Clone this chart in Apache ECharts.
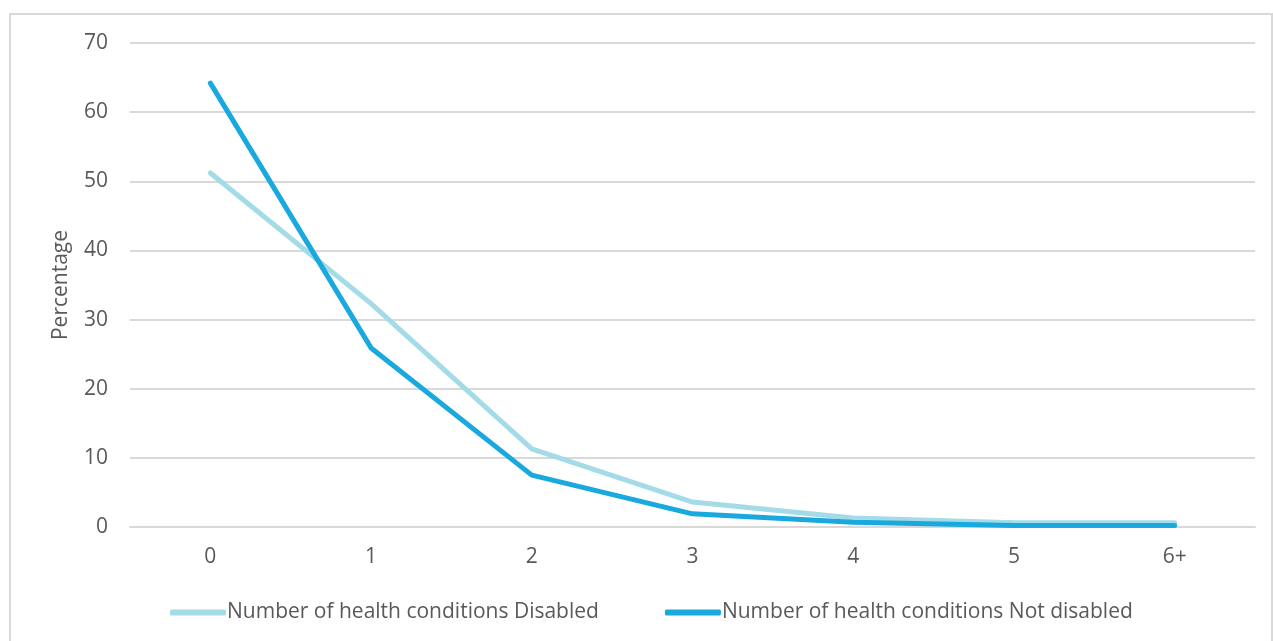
<!DOCTYPE html>
<html>
<head>
<meta charset="utf-8">
<script src="https://cdn.jsdelivr.net/npm/echarts@6/dist/echarts.min.js"></script>
<style>
  html, body { margin: 0; padding: 0; background: #fff; }
  #chart { width: 1273px; height: 641px; }
</style>
</head>
<body>
<div id="chart"></div>
<script>
// Number of health conditions, by disability status (percentage)
const categories = ['0', '1', '2', '3', '4', '5', '6+'];
const disabled = [51.2, 32.3, 11.3, 3.6, 1.3, 0.6, 0.6];
const notDisabled = [64.2, 25.9, 7.5, 1.9, 0.7, 0.2, 0.2];
const yTicks = { min: 0, max: 70, interval: 10 };

const textColor = '#595959';
const gridColor = '#d9d9d9';
const fontFamily = '"Open Sans", "Noto Sans", sans-serif';
const fontSize = 21;

const chart = echarts.init(document.getElementById('chart'), null, { renderer: 'canvas' });

chart.setOption({
  animation: false,
  backgroundColor: '#ffffff',
  textStyle: { fontFamily: fontFamily },
  graphic: [{
    type: 'rect',
    shape: { x: 10, y: 14, width: 1262, height: 640 },
    style: { fill: 'none', stroke: gridColor, lineWidth: 2 },
    silent: true
  }],
  grid: { left: 130, right: 18, top: 43, bottom: 114 },
  legend: {
    bottom: 13,
    left: 165,
    itemGap: 66,
    itemWidth: 56,
    itemHeight: 6,
    icon: 'roundRect',
    textStyle: { color: textColor, fontSize: fontSize, fontFamily: fontFamily, padding: [0, 0, 0, -4] },
    data: ['Number of health conditions Disabled', 'Number of health conditions Not disabled']
  },
  xAxis: {
    type: 'category',
    data: categories,
    boundaryGap: true,
    axisLine: { show: true, lineStyle: { color: gridColor, width: 2 } },
    axisTick: { show: false },
    axisLabel: { color: textColor, fontSize: fontSize, margin: 20, fontFamily: fontFamily }
  },
  yAxis: {
    type: 'value',
    min: yTicks.min,
    max: yTicks.max,
    interval: yTicks.interval,
    name: 'Percentage',
    nameLocation: 'middle',
    nameGap: 58,
    nameTextStyle: { color: textColor, fontSize: fontSize, fontFamily: fontFamily },
    axisLine: { show: false },
    axisTick: { show: false },
    axisLabel: { color: textColor, fontSize: fontSize, margin: 22, fontFamily: fontFamily },
    splitLine: { lineStyle: { color: gridColor, width: 2 } }
  },
  series: [
    {
      name: 'Number of health conditions Disabled',
      type: 'line',
      data: disabled,
      symbol: 'none',
      smooth: false,
      itemStyle: { color: '#a3dbe7' },
      lineStyle: { color: '#a3dbe7', width: 5, cap: 'round', join: 'round' }
    },
    {
      name: 'Number of health conditions Not disabled',
      type: 'line',
      data: notDisabled,
      symbol: 'none',
      smooth: false,
      itemStyle: { color: '#19a9df' },
      lineStyle: { color: '#19a9df', width: 5, cap: 'round', join: 'round' }
    }
  ]
});
</script>
</body>
</html>
